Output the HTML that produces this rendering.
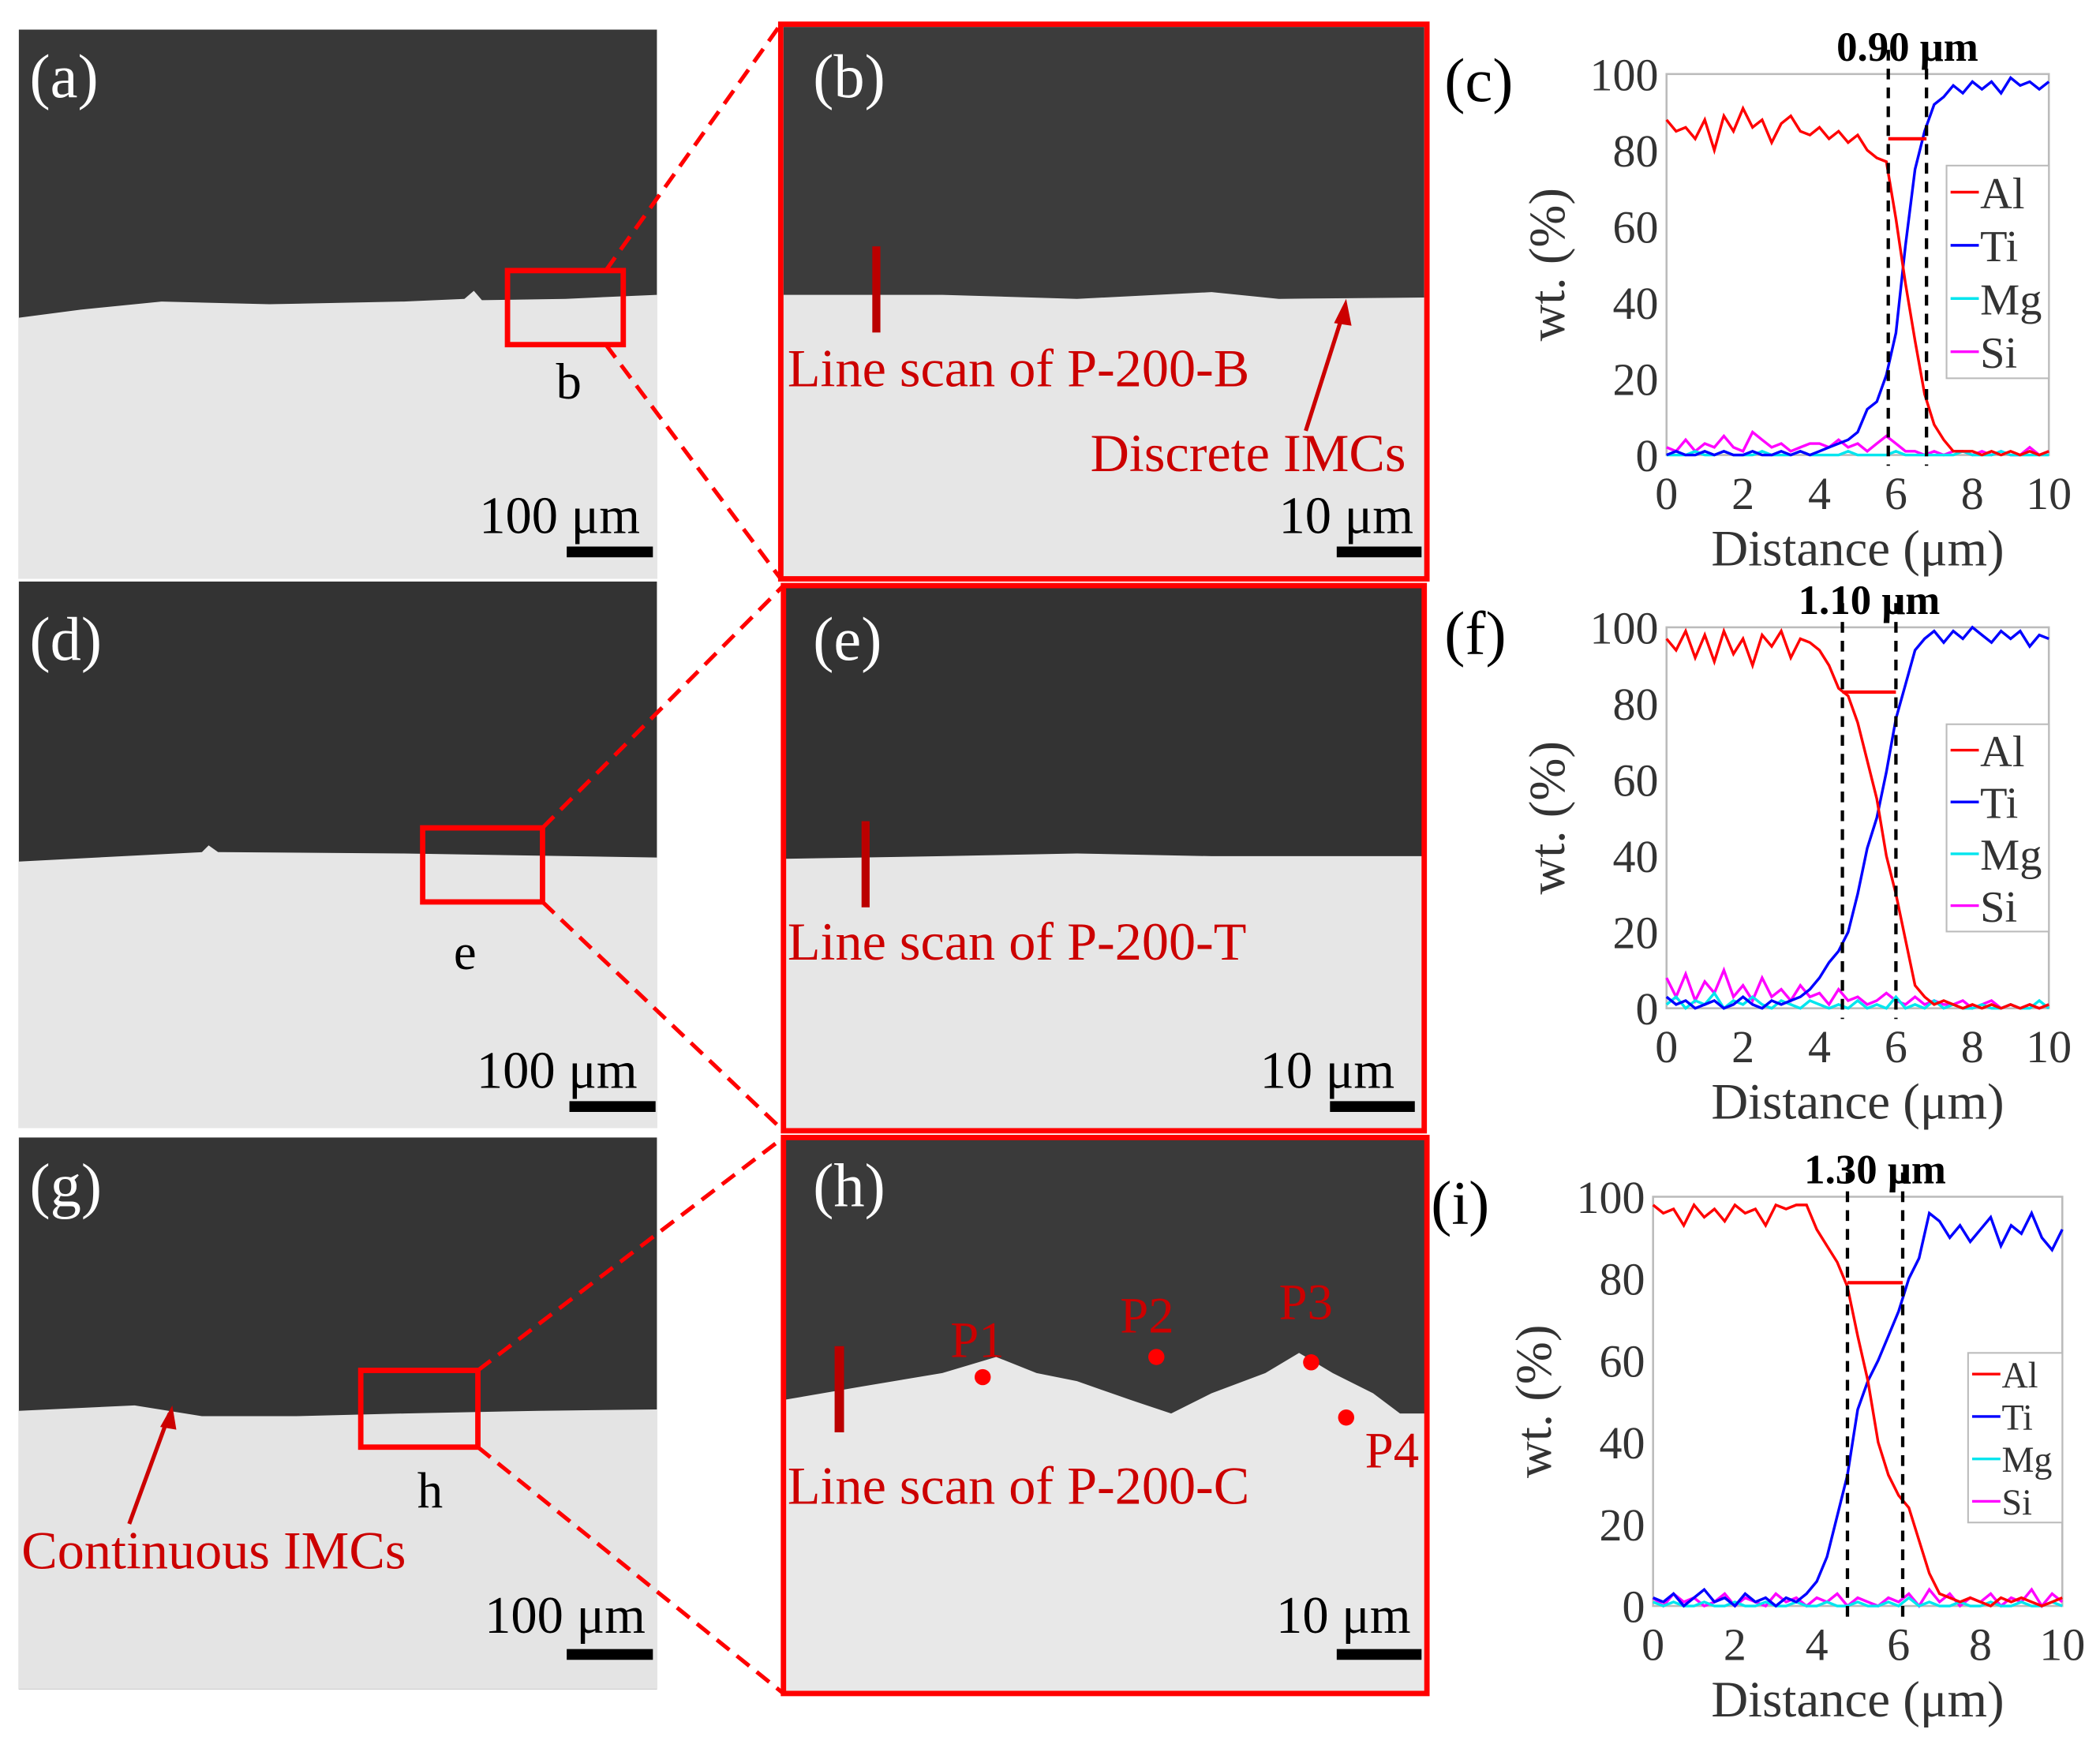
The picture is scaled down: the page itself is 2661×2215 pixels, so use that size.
<!DOCTYPE html>
<html><head><meta charset="utf-8">
<style>
html,body{margin:0;padding:0;background:#fff;}
svg{display:block;}
text{font-family:"Liberation Serif",serif;}
</style></head>
<body>
<svg id="fig" width="2661" height="2215" viewBox="0 0 1560 1298.5" preserveAspectRatio="none" xmlns="http://www.w3.org/2000/svg">
<rect width="1560" height="1299" fill="#fff"/>

<!-- Panel a -->
<g>
<rect x="14" y="22" width="474" height="408" fill="#383838"/>
<path d="M14 236 L60 230 L120 224 L200 226 L300 224 L345 222 L352 216 L358 223 L420 222 L488 219 L488 430 L14 430Z" fill="#e6e6e6"/>
<text x="22" y="72" font-size="46" fill="#fff">(a)</text>
<text x="413" y="296" font-size="38" fill="#000">b</text>
<text x="356" y="396" font-size="39" fill="#000">100 μm</text>
<rect x="421" y="406" width="64" height="8" fill="#000"/>
<rect x="377" y="201" width="86" height="55" fill="none" stroke="#f00" stroke-width="4"/>
</g>
<!-- Panel d -->
<g>
<rect x="14" y="432" width="474" height="406" fill="#333"/>
<path d="M14 640 L150 633 L155 628 L162 633 L300 634 L488 637 L488 838 L14 838Z" fill="#e6e6e6"/>
<text x="22" y="490" font-size="46" fill="#fff">(d)</text>
<text x="337" y="720" font-size="38" fill="#000">e</text>
<text x="354" y="808" font-size="39" fill="#000">100 μm</text>
<rect x="423" y="818" width="64" height="8" fill="#000"/>
<rect x="314" y="615" width="89" height="55" fill="none" stroke="#f00" stroke-width="4"/>
</g>
<!-- Panel g -->
<g>
<rect x="14" y="845" width="474" height="410" fill="#353535"/>
<path d="M14 1048 L100 1044 L150 1052 L220 1052 L300 1050 L400 1048 L488 1047 L488 1255 L14 1255Z" fill="#e4e4e4"/>
<text x="22" y="896" font-size="46" fill="#fff">(g)</text>
<text x="310" y="1120" font-size="38" fill="#000">h</text>
<text x="16" y="1165" font-size="40" fill="#c00">Continuous  IMCs</text>
<line x1="96" y1="1132" x2="126" y2="1050" stroke="#c00" stroke-width="3"/>
<polygon points="128,1044 119,1060 131,1062" fill="#c00"/>
<text x="360" y="1213" font-size="39" fill="#000">100 μm</text>
<rect x="421" y="1225" width="64" height="8" fill="#000"/>
<rect x="268" y="1018" width="87" height="57" fill="none" stroke="#f00" stroke-width="4"/>
</g>

<!-- connecting dashed lines -->
<g stroke="#f00" stroke-width="3" stroke-dasharray="12,7" fill="none">
<line x1="450" y1="201" x2="580" y2="18"/><line x1="450" y1="256" x2="580" y2="430"/>
<line x1="403" y1="615" x2="582" y2="435"/><line x1="403" y1="670" x2="582" y2="840"/>
<line x1="355" y1="1018" x2="582" y2="845"/><line x1="355" y1="1075" x2="582" y2="1258"/>
</g>

<!-- Panel b -->
<g>
<rect x="582" y="20" width="476" height="408" fill="#3c3c3c"/>
<path d="M582 219 L700 219 L800 222 L900 217 L950 222 L1058 221 L1058 428 L582 428Z" fill="#e6e6e6"/>
<rect x="580" y="18" width="480" height="412" fill="none" stroke="#f00" stroke-width="4"/>
<text x="604" y="72" font-size="46" fill="#fff">(b)</text>
<rect x="648" y="183" width="6" height="64" fill="#b00"/>
<text x="585" y="287" font-size="40" fill="#c00">Line scan of P-200-B</text>
<text x="810" y="350" font-size="40" fill="#c00">Discrete  IMCs</text>
<line x1="970" y1="320" x2="998" y2="232" stroke="#c00" stroke-width="3"/>
<polygon points="1000,222 991,240 1004,242" fill="#c00"/>
<text x="950" y="396" font-size="39" fill="#000">10 μm</text>
<rect x="993" y="406" width="63" height="8" fill="#000"/>
</g>
<!-- Panel e -->
<g>
<rect x="582" y="436" width="476" height="404" fill="#333"/>
<path d="M582 638 L700 636 L800 634 L900 636 L1058 636 L1058 840 L582 840Z" fill="#e6e6e6"/>
<rect x="582" y="435" width="476" height="405" fill="none" stroke="#f00" stroke-width="4"/>
<text x="604" y="490" font-size="46" fill="#fff">(e)</text>
<rect x="640" y="610" width="6" height="64" fill="#b00"/>
<text x="585" y="713" font-size="40" fill="#c00">Line scan of P-200-T</text>
<text x="936" y="808" font-size="39" fill="#000">10 μm</text>
<rect x="988" y="818" width="63" height="8" fill="#000"/>
</g>
<!-- Panel h -->
<g>
<rect x="582" y="845" width="478" height="413" fill="#3a3a3a"/>
<path d="M582 1040 L640 1030 L700 1020 L740 1008 L770 1020 L800 1026 L840 1040 L870 1050 L900 1035 L940 1020 L965 1005 L990 1020 L1020 1035 L1040 1050 L1060 1050 L1060 1258 L582 1258Z" fill="#e8e8e8"/>
<rect x="582" y="845" width="478" height="413" fill="none" stroke="#f00" stroke-width="4"/>
<text x="604" y="896" font-size="46" fill="#fff">(h)</text>
<rect x="620" y="1000" width="7" height="64" fill="#b00"/>
<text x="706" y="1008" font-size="38" fill="#c00">P1</text>
<text x="832" y="990" font-size="38" fill="#c00">P2</text>
<text x="950" y="980" font-size="38" fill="#c00">P3</text>
<text x="1014" y="1090" font-size="38" fill="#c00">P4</text>
<circle cx="730" cy="1023" r="6" fill="#f00"/>
<circle cx="859" cy="1008" r="6" fill="#f00"/>
<circle cx="974" cy="1012" r="6" fill="#f00"/>
<circle cx="1000" cy="1053" r="6" fill="#f00"/>
<text x="585" y="1117" font-size="40" fill="#c00">Line scan of P-200-C</text>
<text x="948" y="1213" font-size="39" fill="#000">10 μm</text>
<rect x="993" y="1225" width="63" height="8" fill="#000"/>
</g>
<g id="charts"></g>
</svg>
<script>
const xTicks = [0,2,4,6,8,10];
const yTicks = [0,20,40,60,80,100];
const legendNames = ["Al","Ti","Mg","Si"];
const seriesColors = ["#ff0000","#0000ff","#00e5ee","#ff00ff"];
// x positions: 0..10 step 0.25
const xs = [0,0.25,0.5,0.75,1,1.25,1.5,1.75,2,2.25,2.5,2.75,3,3.25,3.5,3.75,4,4.25,4.5,4.75,5,5.25,5.5,5.75,6,6.25,6.5,6.75,7,7.25,7.5,7.75,8,8.25,8.5,8.75,9,9.25,9.5,9.75,10];
// chart c
const cAl = [88,85,86,83,88,80,89,85,91,86,88,82,87,89,85,84,86,83,85,82,84,80,78,77,62,45,30,16,8,4,1,1,1,0,1,0,1,0,1,0,1];
const cTi = [0,1,0,0,1,0,1,0,0,1,0,0,1,0,1,0,1,2,3,4,6,12,14,21,32,55,75,85,92,94,97,95,98,96,98,95,99,97,98,96,98];
const cMg = [0,0,0,1,0,0,1,0,0,0,1,0,0,0,1,0,0,0,0,1,0,0,0,0,1,0,0,0,0,0,0,1,0,0,0,1,0,0,0,0,0];
const cSi = [2,1,4,1,3,2,5,2,1,6,4,2,3,1,2,3,3,2,4,2,3,1,3,5,3,1,1,0,1,0,1,1,0,1,0,1,0,0,2,0,1];
const cDash = [5.8,6.8]; const cBar = 83; const cTitle = "0.90 μm";
// chart f
const fAl = [97,94,99,92,98,91,99,93,97,90,98,95,99,92,97,96,94,90,84,82,75,65,55,40,30,18,6,3,1,2,1,0,1,0,1,0,1,0,1,0,1];
const fTi = [3,1,2,0,1,2,0,1,3,1,0,2,1,2,3,5,8,12,15,20,30,42,50,62,76,85,94,97,99,96,99,97,100,98,96,99,97,99,95,98,97];
const fMg = [1,3,0,2,1,4,0,2,1,3,1,0,2,1,0,2,1,0,1,0,2,0,1,0,3,0,1,0,2,0,1,0,0,1,0,0,1,0,0,2,0];
const fSi = [8,3,9,2,7,4,10,3,6,2,8,3,5,2,6,3,4,1,5,2,3,1,2,4,2,1,3,1,2,1,1,2,0,1,2,0,1,0,1,0,1];
const fDash = [4.6,6.0]; const fBar = 83; const fTitle = "1.10 μm";
// chart i
const iAl = [98,96,97,93,98,95,97,94,98,96,97,93,98,97,98,98,92,88,84,78,66,55,40,32,27,24,16,8,3,2,1,2,1,0,2,1,2,1,0,1,2];
const iTi = [2,1,3,0,2,4,1,2,0,3,1,2,0,2,1,3,6,12,22,32,48,55,60,66,72,80,85,96,94,90,93,89,92,95,88,93,91,96,90,87,92];
const iMg = [1,0,1,0,0,1,0,0,1,0,0,1,0,0,1,0,0,1,0,0,1,0,0,1,0,2,0,1,0,0,1,0,0,1,0,0,1,0,0,1,0];
const iSi = [2,0,3,1,2,0,1,3,0,2,1,0,3,1,2,0,2,1,3,0,2,1,0,2,1,3,0,4,1,3,0,2,1,3,0,2,1,4,0,3,1];
const iDash = [4.75,6.1]; const iBar = 79; const iTitle = "1.30 μm";

const NS = "http://www.w3.org/2000/svg";
function mk(parent, tag, attrs){const e=document.createElementNS(NS,tag);for(const k in attrs)e.setAttribute(k,attrs[k]);parent.appendChild(e);return e;}

function drawChart(id, label, L, T, R, B, series, dash, bar, title, leg, fs){
  const root = document.getElementById('charts');
  const g = mk(root,'g',{});
  
  
  const sx = v => L + (v/10)*(R-L);
  const sy = v => B - (v/100)*(B-T);
  mk(g,'rect',{x:L,y:T,width:R-L,height:B-T,fill:'#fff',stroke:'#bbb','stroke-width':1.5});
  xTicks.forEach(t=>{
    const tx = mk(g,'text',{x:sx(t),y:B+40,'font-size':fs,'text-anchor':'middle',fill:'#333'});
    tx.textContent=t;
    
    
  });
  yTicks.forEach(t=>{
    const ty = mk(g,'text',{x:L-6,y:sy(t)+12,'font-size':fs,'text-anchor':'end',fill:'#333'});
    ty.textContent=t;
    
    
  });
  const xt = mk(g,'text',{x:(L+R)/2,y:B+82,'font-size':fs+4,'text-anchor':'middle',fill:'#333'});
  xt.textContent='Distance (μm)';
  
  
  const yx = L-76, yy=(T+B)/2;
  const yt = mk(g,'text',{x:yx,y:yy,'font-size':fs+4,'text-anchor':'middle',fill:'#333',transform:`rotate(-90 ${yx} ${yy})`});
  yt.textContent='wt. (%)';
  
  
  const pl = mk(g,'text',{x:L-165,y:T+20,'font-size':46,fill:'#000'});
  pl.textContent=label;
  
  
  [3,2,1,0].forEach(k=>{
    const d = series[k].map((v,i)=>(i?'L':'M')+sx(xs[i]).toFixed(1)+' '+sy(v).toFixed(1)).join(' ');
    const p = mk(g,'path',{d:d,fill:'none',stroke:seriesColors[k],'stroke-width':2});
    
    
  });
  dash.forEach(dv=>{
    const l = mk(g,'line',{x1:sx(dv),x2:sx(dv),y1:T-18,y2:B+8,stroke:'#000','stroke-width':2.5,'stroke-dasharray':'8,6'});
    
    
  });
  const hb = mk(g,'line',{x1:sx(dash[0]),x2:sx(dash[1]),y1:sy(bar),y2:sy(bar),stroke:'#f00','stroke-width':2.5});
  
  
  const tt = mk(g,'text',{x:(sx(dash[0])+sx(dash[1]))/2,y:T-10,'font-size':31,'font-weight':'bold','text-anchor':'middle',fill:'#000'});
  tt.textContent=title;
  
  
  const lg = mk(g,'g',{});
  
  
  mk(lg,'rect',{x:leg.x,y:leg.y,width:leg.w,height:leg.h,fill:'#fff',stroke:'#bbb','stroke-width':1.2});
  const step = leg.h/4;
  legendNames.forEach((n,k)=>{
    const cy = leg.y + step*(k+0.5);
    const e = mk(lg,'g',{});
    
    
    mk(e,'line',{x1:leg.x+3,x2:leg.x+24,y1:cy,y2:cy,stroke:seriesColors[k],'stroke-width':2});
    const t = mk(e,'text',{x:leg.x+25,y:cy+leg.fs*0.36,'font-size':leg.fs,fill:'#333'});
    t.textContent=n;
  });
}
drawChart('c','(c)',1238,55,1522,338,[cAl,cTi,cMg,cSi],cDash,cBar,cTitle,{x:1446,y:123,w:76,h:158,fs:33},34);
drawChart('f','(f)',1238,466,1522,749,[fAl,fTi,fMg,fSi],fDash,fBar,fTitle,{x:1446,y:538,w:76,h:154,fs:33},34);
drawChart('i','(i)',1228,889,1532,1193,[iAl,iTi,iMg,iSi],iDash,iBar,iTitle,{x:1462,y:1005,w:70,h:126,fs:27},34);
</script>
</body></html>
